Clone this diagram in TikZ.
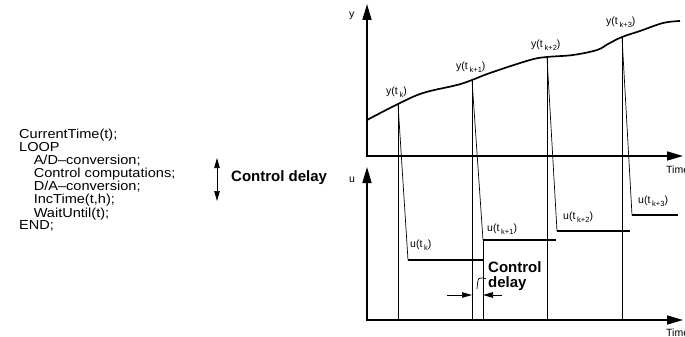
\documentclass[tikz,border=0pt]{standalone}
\usepackage{fontspec}
\setmainfont{Liberation Sans}
\usetikzlibrary{arrows.meta}

\tikzset{
  axis/.style={line width=1.6pt, line join=miter,
    {Triangle[length=16pt,width=9pt]}-{Triangle[length=16pt,width=9pt]}},
  signal/.style={line width=1.7pt},
  thinline/.style={line width=0.7pt},
  lbl/.style={font=\fontsize{10.5}{12}\selectfont, inner sep=0pt, anchor=west},
  boldlbl/.style={font=\fontsize{15}{15}\selectfont\bfseries, inner sep=0pt, align=left},
}
\newcommand{\sampled}[2]{#1(t\,\raisebox{-2.5pt}{\fontsize{7.5}{8}\selectfont #2})}

\begin{document}
\begin{tikzpicture}[x=1pt, y=-1pt, >={Triangle[length=10pt,width=5.5pt]}]
  \clip (0,0) rectangle (685,337);

  % program text
  \node[inner sep=0pt, anchor=north west,
        font=\fontsize{13}{12.4}\selectfont] (code) at (19,129)
    {\scalebox{1.12}[1]{\begin{tabular}{@{}l@{}}
     CurrentTime(t);\\ LOOP\\
     \hspace*{13pt}A/D--conversion;\\
     \hspace*{13pt}Control computations;\\
     \hspace*{13pt}D/A--conversion;\\
     \hspace*{13pt}IncTime(t,h);\\
     \hspace*{13pt}WaitUntil(t);\\ END;
     \end{tabular}}};

  % control delay in the program
  \coordinate (cdtop) at (217,158);
  \coordinate (cdbot) at (217,201);
  \draw[<->, thinline] (cdtop) -- (cdbot);
  \node[boldlbl, anchor=west] (cdlabel) at (231,178) {Control delay};

  % axes
  \coordinate (O1) at (367,156);
  \coordinate (O2) at (367,320);
  \draw[axis] (367,4) -- (O1) -- (683,156);
  \draw[axis] (367,167) -- (O2) -- (683,320);
  \node[lbl] (ylab) at (349,16) {y};
  \node[lbl] (ulab) at (349,180) {u};
  \node[lbl] (time1) at (666,170) {Time};
  \node[lbl] (time2) at (666,333) {Time};

  % process output
  \coordinate (s0) at (398,104);
  \coordinate (s1) at (472,80);
  \coordinate (s2) at (547,57);
  \coordinate (s3) at (622,37);
  \draw[signal] plot[smooth, tension=0.6] coordinates
    {(367,120) (s0) (423,93) (457,85) (s1) (490,73) (530,60) (s2)
     (573,55) (597,50) (608,44) (s3) (640,31) (663,23) (680,21)};

  % sampling instants
  \draw[thinline] (s0) -- (398,320);
  \draw[thinline] (s1) -- (472,320);
  \draw[thinline] (s2) -- (547,320);
  \draw[thinline] (s3) -- (622,320);

  % control signal
  \coordinate (u0) at (408,260);
  \coordinate (u1) at (483,240);
  \coordinate (u2) at (557,231);
  \coordinate (u3) at (632,215);
  \draw[thinline] (s0) -- (u0);
  \draw[thinline] (s1) -- (u1);
  \draw[thinline] (s2) -- (u2);
  \draw[thinline] (s3) -- (u3);
  \draw[signal] (u0) -- (483,260);
  \draw[signal] (u1) -- (556,240);
  \draw[signal] (u2) -- (630,231);
  \draw[signal] (u3) -- (678,215);
  \draw[thinline] (u1) -- (483,320);

  \node[lbl] (y0) at (386,92) {\sampled{y}{k}};
  \node[lbl] (y1) at (456,67) {\sampled{y}{k+1}};
  \node[lbl] (y2) at (531,45) {\sampled{y}{k+2}};
  \node[lbl] (y3) at (606,22) {\sampled{y}{k+3}};
  \node[lbl] (ul0) at (410,245) {\sampled{u}{k}};
  \node[lbl] (ul1) at (487,229) {\sampled{u}{k+1}};
  \node[lbl] (ul2) at (563,217) {\sampled{u}{k+2}};
  \node[lbl] (ul3) at (638,201) {\sampled{u}{k+3}};

  % control delay in the time plot
  \coordinate (dl) at (447,295);
  \coordinate (dr) at (502,295);
  \draw[->, thinline] (dl) -- (472,295);
  \draw[->, thinline] (dr) -- (483,295);
  \node[boldlbl, anchor=north west] (dlabel) at (488,261) {Control\\delay};
  \draw[thinline] (dlabel.west) ++(-2,3) .. controls (478,277) .. (477,289);
\end{tikzpicture}
\end{document}
